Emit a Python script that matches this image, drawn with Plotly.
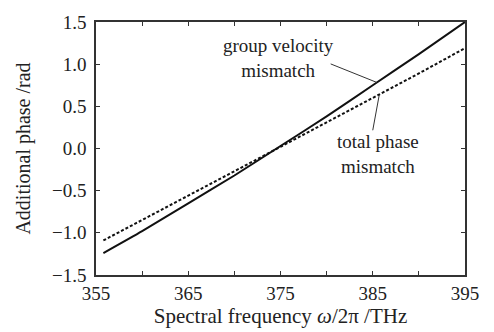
import plotly.graph_objects as go

freq = [355.8, 360, 365, 370, 375, 380, 385, 390, 395]
group_velocity = [-1.24, -0.98, -0.65, -0.32, 0.03, 0.38, 0.75, 1.12, 1.5]
total_phase = [-1.09, -0.85, -0.56, -0.27, 0.02, 0.31, 0.60, 0.89, 1.19]

x_ticks = [355, 365, 375, 385, 395]
y_ticks = [-1.5, -1.0, -0.5, 0.0, 0.5, 1.0, 1.5]
y_labels = ["\u22121.5", "\u22121.0", "\u22120.5", "0.0", "0.5", "1.0", "1.5"]

FONT = "Liberation Serif"
INK = "#222222"

fig = go.Figure()
fig.add_trace(go.Scatter(x=freq, y=group_velocity, mode="lines",
                         line=dict(color="#111111", width=2, shape="spline", smoothing=0.6),
                         name="group velocity mismatch"))
fig.add_trace(go.Scatter(x=freq, y=total_phase, mode="lines",
                         line=dict(color="#111111", width=2, dash="3px,2px"),
                         name="total phase mismatch"))

axis_common = dict(showline=True, linecolor="#333333", linewidth=1.5, mirror="ticks",
                   ticks="inside", ticklen=4, tickwidth=1.2, tickcolor="#333333",
                   showgrid=False, zeroline=False,
                   tickfont=dict(family=FONT, size=19, color=INK))

fig.update_xaxes(range=[355, 395], tickvals=x_ticks, ticktext=[str(v) for v in x_ticks],
                 minor=dict(dtick=5, tick0=355, ticks="inside", ticklen=4, tickwidth=1.2,
                            tickcolor="#333333", showgrid=False),
                 title=dict(text="Spectral frequency <i>\u03c9</i>/2\u03c0 /THz",
                            font=dict(family=FONT, size=21, color=INK), standoff=2),
                 **axis_common)
fig.update_yaxes(range=[-1.5, 1.5], tickvals=y_ticks, ticktext=y_labels,
                 title=dict(text="Additional phase /rad",
                            font=dict(family=FONT, size=20, color=INK), standoff=16),
                 ticklabelstandoff=4,
                 **axis_common)

# pointer lines
fig.add_shape(type="line", x0=380.44, y0=1.003, x1=385.43, y1=0.784,
              line=dict(color="#333333", width=1))
fig.add_shape(type="line", x0=385.0, y0=0.216, x1=385.7, y1=0.633,
              line=dict(color="#333333", width=1))

fig.add_annotation(x=374.8, y=1.074, text="group velocity<br>mismatch", showarrow=False,
                   align="center", font=dict(family=FONT, size=19, color=INK))
fig.add_annotation(x=385.6, y=-0.0625, text="total phase<br>mismatch", showarrow=False,
                   align="center", font=dict(family=FONT, size=19, color=INK))

fig.update_layout(width=494, height=332, margin=dict(l=96, r=29, t=12, b=56),
                  paper_bgcolor="white", plot_bgcolor="white", showlegend=False)

fig.write_html("out.html")
